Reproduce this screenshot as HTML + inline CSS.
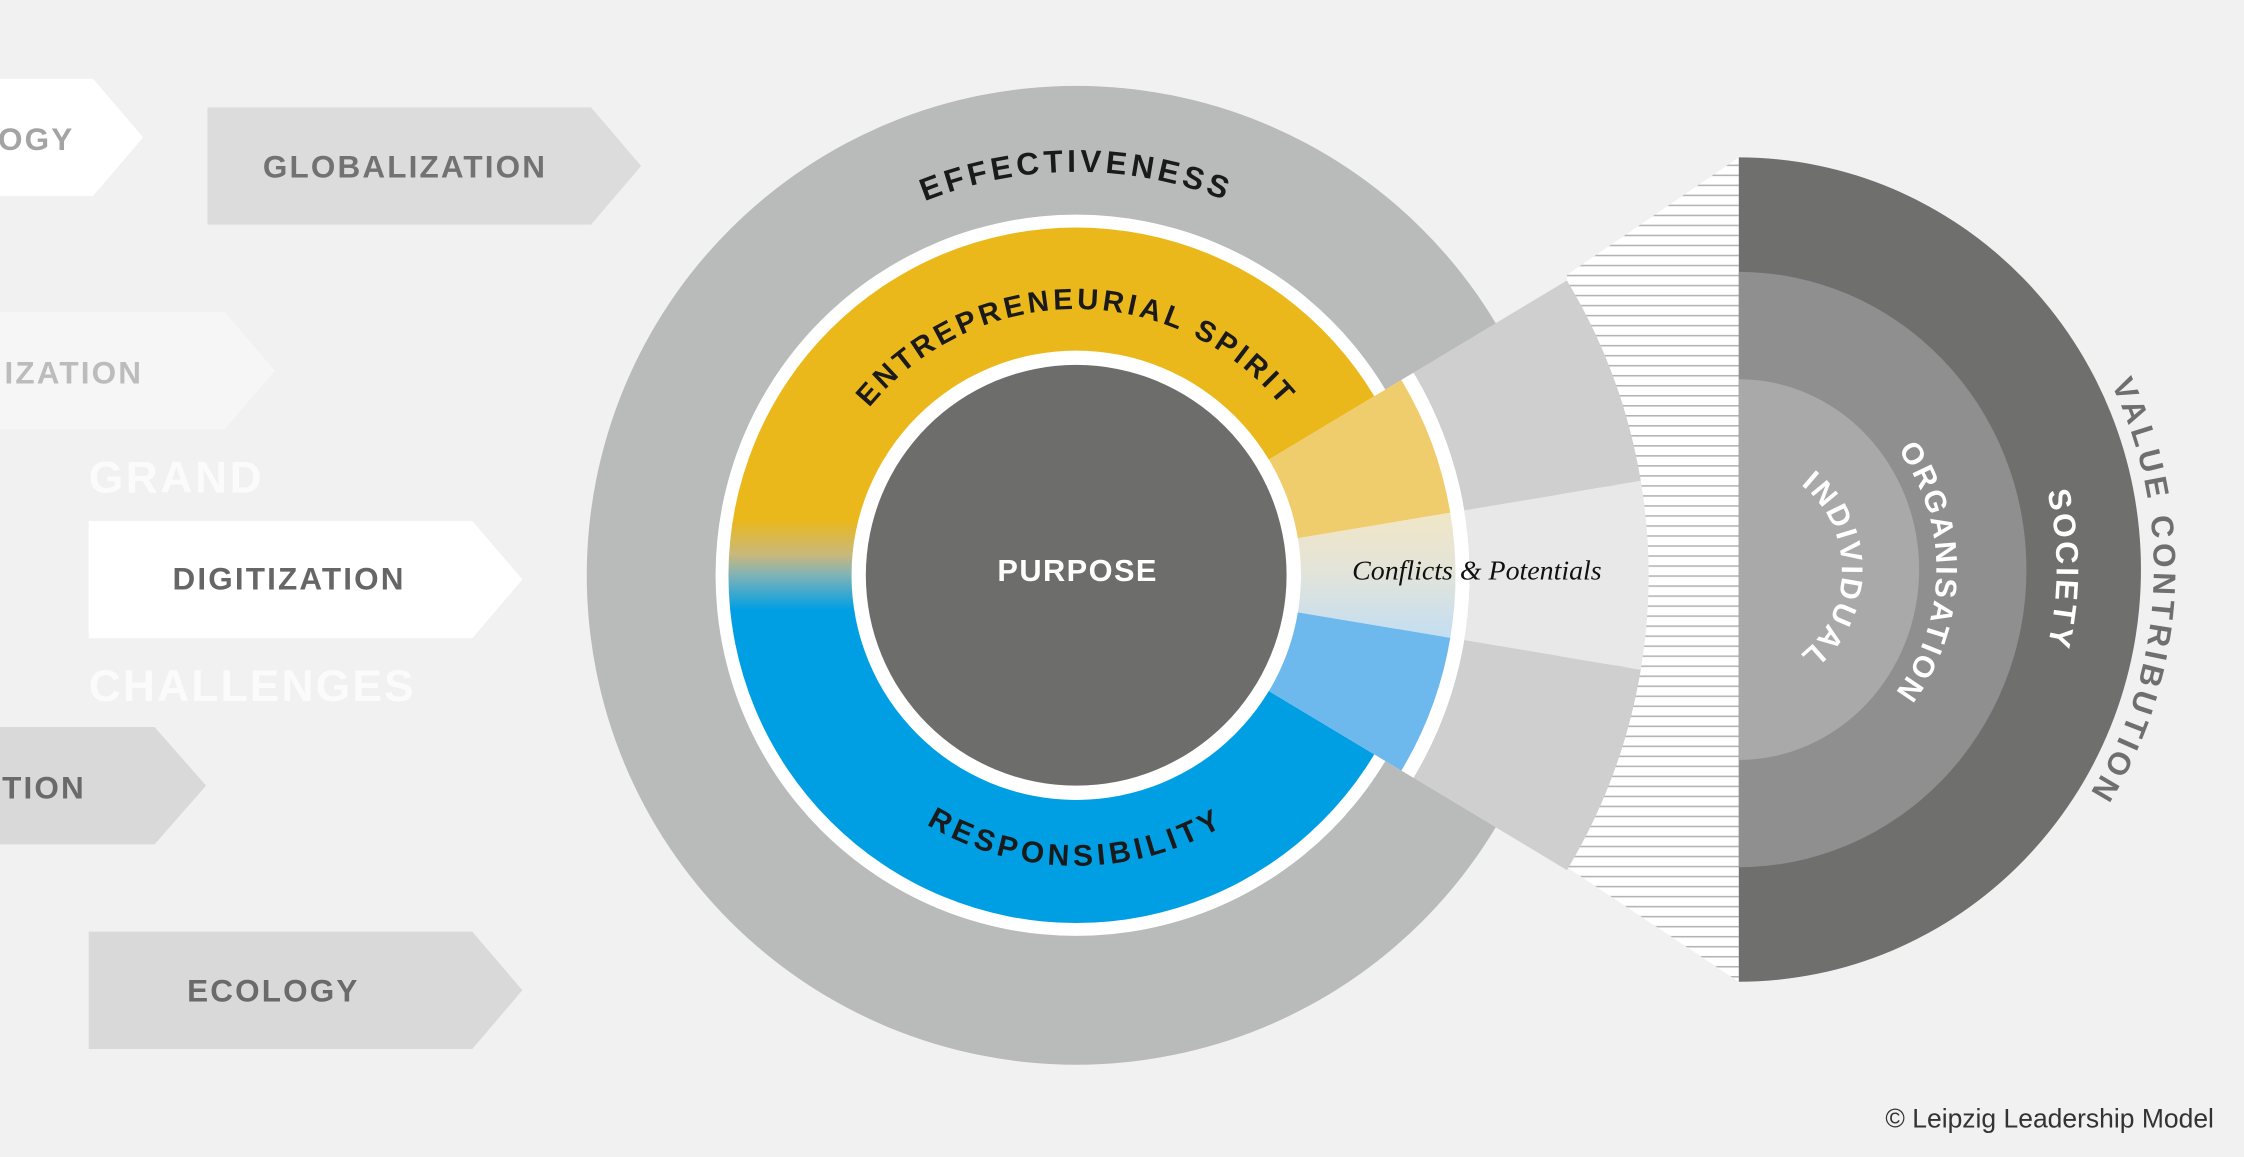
<!DOCTYPE html>
<html><head><meta charset="utf-8"><style>
html,body{margin:0;padding:0;background:#f0f1f0;}
svg{display:block;}
text{font-family:"Liberation Sans",sans-serif;font-weight:bold;}
</style></head><body>
<svg width="2244" height="1157" viewBox="0 0 1568 808.5" preserveAspectRatio="none" xmlns="http://www.w3.org/2000/svg">
<defs>
<linearGradient id="ring" gradientUnits="userSpaceOnUse" x1="0" y1="159" x2="0" y2="645">
<stop offset="0" stop-color="#ebb81c"/>
<stop offset="0.42" stop-color="#ebb81c"/>
<stop offset="0.47" stop-color="#c9b87a"/>
<stop offset="0.5" stop-color="#7fb3b8"/>
<stop offset="0.55" stop-color="#009fe3"/>
<stop offset="1" stop-color="#009fe3"/>
</linearGradient>
<linearGradient id="mid" gradientUnits="userSpaceOnUse" x1="0" y1="358" x2="0" y2="446">
<stop offset="0" stop-color="#f1e6c6"/>
<stop offset="0.45" stop-color="#e4e4d8"/>
<stop offset="1" stop-color="#c3def2"/>
</linearGradient>
<pattern id="hatch" patternUnits="userSpaceOnUse" width="10" height="7">
<rect width="10" height="7" fill="#ffffff"/>
<rect y="3" width="10" height="1.1" fill="#b4b4b4"/>
</pattern>
<path id="effP" d="M 470 402 A 282 282 0 0 1 1034 402"/>
<path id="entP" d="M 566 402 A 186 186 0 0 1 938 402"/>
<path id="resP" d="M 549 402 A 203 203 0 0 0 955 402"/>
<path id="indP" d="M 1215 324 A 72 74 0 0 1 1215 472"/>
<path id="orgP" d="M 1215 257 A 138 141 0 0 1 1215 539"/>
<path id="socP" d="M 1215 172 A 222 226 0 0 1 1215 624"/>
<path id="valP" d="M 1215 104 A 290 294 0 0 1 1215 692"/>
</defs>
<rect width="1568" height="808.5" fill="#f0f1f0"/>

<!-- left arrows -->
<polygon points="-5,55 65,55 100,96 65,137 -5,137" fill="#ffffff"/>
<text x="52" y="105" font-size="22" fill="#a4a4a4" text-anchor="end" letter-spacing="1.5">OGY</text>
<polygon points="145,75 413,75 448,116 413,157 145,157" fill="#dcdcdc"/>
<text x="283" y="124" font-size="22" fill="#727272" text-anchor="middle" letter-spacing="1.5">GLOBALIZATION</text>
<polygon points="-5,218 157,218 192,259 157,300 -5,300" fill="#f6f6f6"/>
<text x="100" y="268" font-size="22" fill="#bcbcbc" text-anchor="end" letter-spacing="1.5">IZATION</text>
<text x="62" y="344" font-size="31" fill="#fbfbfb" letter-spacing="1.8">GRAND</text>
<polygon points="62,364 330,364 365,405 330,446 62,446" fill="#ffffff"/>
<text x="202" y="412" font-size="22" fill="#666666" text-anchor="middle" letter-spacing="1.5">DIGITIZATION</text>
<text x="62" y="490" font-size="31" fill="#fbfbfb" letter-spacing="1.5">CHALLENGES</text>
<polygon points="-5,508 108,508 144,549 108,590 -5,590" fill="#d9d9d9"/>
<text x="60" y="558" font-size="22" fill="#6a6a6a" text-anchor="end" letter-spacing="1.5">TION</text>
<polygon points="62,651 330,651 365,692 330,733 62,733" fill="#d9d9d9"/>
<text x="191" y="700" font-size="22" fill="#6a6a6a" text-anchor="middle" letter-spacing="1.5">ECOLOGY</text>

<!-- main circle -->
<circle cx="752" cy="402" r="342" fill="#b9baba"/>
<circle cx="752" cy="402" r="252" fill="#ffffff"/>
<circle cx="752" cy="402" r="243" fill="url(#ring)"/>

<!-- hatch cone -->
<polygon points="1095,192 1215,110 1215,686 1095,606" fill="url(#hatch)"/>

<!-- gray wedges -->
<path d="M 987.7 260.4 L 1094.9 196 A 400 400 0 0 1 1146.5 336 L 1023.2 356.6 A 275 275 0 0 0 987.7 260.4 Z" fill="#cfcfcf"/>
<path d="M 1023.2 356.6 L 1146.5 336 A 400 400 0 0 1 1146.5 468 L 1023.2 447.4 A 275 275 0 0 0 1023.2 356.6 Z" fill="#e8e8e8"/>
<path d="M 1023.2 447.4 L 1146.5 468 A 400 400 0 0 1 1094.9 608 L 987.7 543.6 A 275 275 0 0 0 1023.2 447.4 Z" fill="#cfcfcf"/>
<path d="M 880.6 324.75 L 987.7 260.4 A 275 275 0 0 1 987.7 543.6 L 880.6 479.25 A 150 150 0 0 0 880.6 324.75 Z" fill="#ffffff"/>
<!-- pale sectors -->
<path d="M 886.6 321.1 L 979.2 265.5 A 265 265 0 0 1 1013.4 358.3 L 906.8 376.1 A 157 157 0 0 0 886.6 321.1 Z" fill="#efcc6c"/>
<path d="M 906.8 376.1 L 1013.4 358.3 A 265 265 0 0 1 1013.4 445.7 L 906.8 427.9 A 157 157 0 0 0 906.8 376.1 Z" fill="url(#mid)"/>
<path d="M 906.8 427.9 L 1013.4 445.7 A 265 265 0 0 1 979.2 538.5 L 886.6 482.9 A 157 157 0 0 0 906.8 427.9 Z" fill="#6db8ec"/>

<circle cx="752" cy="402" r="157" fill="#ffffff"/>
<circle cx="752" cy="402" r="147" fill="#6d6d6c"/>
<text x="753" y="406" font-size="21.5" fill="#ffffff" text-anchor="middle" letter-spacing="1">PURPOSE</text>

<text font-size="22" fill="#1a1a1a" letter-spacing="2.8"><textPath href="#effP" startOffset="50%" text-anchor="middle">EFFECTIVENESS</textPath></text>
<text font-size="20.5" fill="#1a1a1a" letter-spacing="2.6"><textPath href="#entP" startOffset="50%" text-anchor="middle">ENTREPRENEURIAL SPIRIT</textPath></text>
<text font-size="21" fill="#1a1a1a" letter-spacing="3.2"><textPath href="#resP" startOffset="50%" text-anchor="middle">RESPONSIBILITY</textPath></text>

<text x="1032" y="405" font-size="19.5" fill="#111" text-anchor="middle" style="font-family:'Liberation Serif',serif;font-style:italic;font-weight:normal">Conflicts &amp; Potentials</text>

<!-- semicircle -->
<path d="M 1215 110 A 281 288 0 0 1 1215 686 Z" fill="#6f6f6e"/>
<path d="M 1215 190 A 201 208 0 0 1 1215 606 Z" fill="#8f8f8f"/>
<path d="M 1215 265 A 126 133 0 0 1 1215 531 Z" fill="#a9a9a9"/>

<text font-size="21" fill="#ffffff" letter-spacing="1.8"><textPath href="#indP" startOffset="50.5%" text-anchor="middle">INDIVIDUAL</textPath></text>
<text font-size="21" fill="#ffffff" letter-spacing="1.8"><textPath href="#orgP" startOffset="50.5%" text-anchor="middle">ORGANISATION</textPath></text>
<text font-size="22" fill="#ffffff" letter-spacing="2"><textPath href="#socP" startOffset="50%" text-anchor="middle">SOCIETY</textPath></text>
<text font-size="22" fill="#6f6f6f" letter-spacing="3"><textPath href="#valP" startOffset="51.8%" text-anchor="middle">VALUE CONTRIBUTION</textPath></text>

<text x="1547" y="788" font-size="18.5" fill="#333333" text-anchor="end" style="font-weight:normal">© Leipzig Leadership Model</text>
</svg>
</body></html>
